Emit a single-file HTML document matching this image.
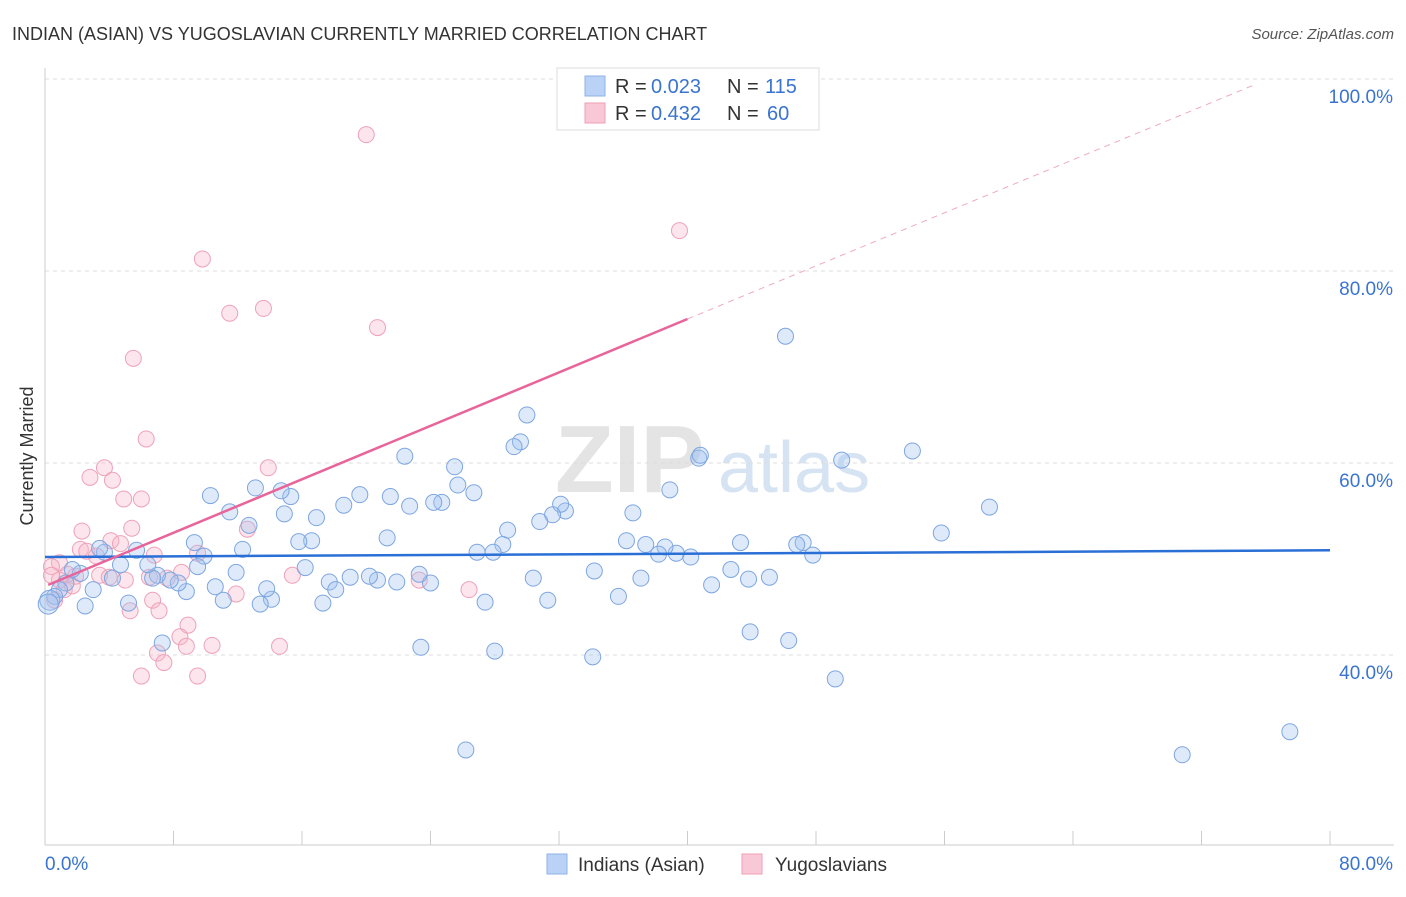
<!DOCTYPE html>
<html><head><meta charset="utf-8">
<style>
body{margin:0;background:#fff;font-family:"Liberation Sans",sans-serif;}
svg text{font-family:"Liberation Sans",sans-serif;}
</style></head>
<body>
<svg id="chart" width="1406" height="892" viewBox="0 0 1406 892" xmlns="http://www.w3.org/2000/svg">
<text x="12" y="40" font-size="18" fill="#333">INDIAN (ASIAN) VS YUGOSLAVIAN CURRENTLY MARRIED CORRELATION CHART</text>
<text x="1394" y="39" font-size="15" fill="#555" font-style="italic" text-anchor="end">Source: ZipAtlas.com</text>
<text x="555" y="492" font-size="96" fill="#e4e4e4" font-family="Liberation Serif" font-weight="bold">ZIP</text>
<text x="718" y="492" font-size="72" fill="#d6e3f3">atlas</text>
<g id="grid"></g>
<g id="axes"></g>
<g id="marks"></g>
<text transform="translate(33,456) rotate(-90)" font-size="18" fill="#333" text-anchor="middle">Currently Married</text>
<g>
<rect x="557" y="68" width="262" height="62" fill="#fff" stroke="#ddd"/>
<rect x="585" y="76" width="20" height="20" fill="#b9d2f5" stroke="#8fb2e6"/>
<text x="615" y="93" font-size="20" fill="#333">R =</text>
<text x="651" y="93" font-size="20" fill="#3a74d0">0.023</text>
<text x="727" y="93" font-size="20" fill="#333">N =</text>
<text x="765" y="93" font-size="20" fill="#3a74d0">115</text>
<rect x="585" y="103" width="20" height="20" fill="#f9c8d6" stroke="#ee9fb7"/>
<text x="615" y="120" font-size="20" fill="#333">R =</text>
<text x="651" y="120" font-size="20" fill="#3a74d0">0.432</text>
<text x="727" y="120" font-size="20" fill="#333">N =</text>
<text x="767" y="120" font-size="20" fill="#3a74d0">60</text>
</g>
<g>
<rect x="547" y="854" width="20" height="20" fill="#b9d2f5" stroke="#8fb2e6"/>
<text x="578" y="871" font-size="19" fill="#333">Indians (Asian)</text>
<rect x="742" y="854" width="20" height="20" fill="#f9c8d6" stroke="#ee9fb7"/>
<text x="775" y="871" font-size="19" fill="#333">Yugoslavians</text>
</g>
</svg>
<script>
const yTicks=[40,60,80,100];
const yTickLabels=["40.0%","60.0%","80.0%","100.0%"];
const xTicks=[0,8,16,24,32,40,48,56,64,72,80];
const blueX=[77.5,70.8,46.1,54.0,49.6,58.8,55.8,49.2,46.3,43.9,47.8,47.2,46.8,45.1,43.8,42.7,43.3,41.5,40.7,40.8,38.9,40.2,39.3,38.6,38.2,37.4,36.2,36.6,37.1,35.7,34.2,34.1,32.4,32.1,31.6,30.8,31.3,30.4,30.0,29.6,29.2,28.8,28.5,27.9,26.9,28.0,27.4,26.2,26.7,25.7,25.5,24.7,24.2,22.7,22.4,24.0,23.3,23.4,21.9,21.5,21.3,20.7,20.2,19.6,19.0,18.6,17.7,18.1,17.3,16.9,16.6,16.2,15.8,15.3,14.9,14.7,14.1,13.8,13.4,13.1,12.7,12.3,11.9,11.5,11.1,10.6,10.3,9.9,9.5,9.3,8.8,8.3,7.8,7.3,7.0,6.7,6.4,5.7,5.2,4.7,4.2,3.7,3.4,3.0,2.5,2.2,1.7,1.3,0.9,0.6,0.3,0.2];
const blueY=[32.0,29.6,73.2,61.25,60.3,55.4,52.7,37.5,41.5,42.4,50.4,51.7,51.5,48.1,47.9,48.9,51.7,47.3,60.5,60.8,57.2,50.2,50.6,51.25,50.5,51.5,51.9,54.8,48.0,46.1,48.75,39.8,55.0,55.7,54.6,53.9,45.7,48.0,65.0,62.2,61.7,53.0,51.5,50.7,50.7,40.4,45.5,30.1,56.9,57.7,59.6,55.9,55.9,55.5,60.7,47.5,48.4,40.8,47.6,56.5,52.2,47.8,48.2,56.7,48.1,55.6,47.6,46.8,45.4,54.3,51.9,49.1,51.8,56.5,54.7,57.1,45.8,46.9,45.3,57.4,53.5,51.0,48.6,54.9,45.7,47.1,56.6,50.3,49.2,51.7,46.6,47.5,47.8,41.25,48.3,48.0,49.4,50.9,45.4,49.4,48.0,50.7,51.1,46.8,45.1,48.5,48.9,47.5,46.8,46.1,45.7,45.3];
const pinkX=[20.0,39.5,9.8,13.6,11.5,20.7,5.5,6.3,3.7,13.9,2.8,4.2,4.9,6.0,2.3,5.4,12.6,4.1,4.7,2.2,2.6,3.2,6.8,9.5,0.9,0.4,1.4,1.9,0.9,3.4,4.0,5.0,6.5,7.6,8.5,15.4,23.3,26.4,11.9,6.7,5.3,7.1,8.9,8.4,8.8,10.4,14.6,7.0,7.4,6.0,9.5,1.2,1.7,0.6,0.4];
const pinkY=[94.2,84.2,81.25,76.1,75.6,74.1,70.9,62.5,59.5,59.5,58.5,58.2,56.25,56.25,52.9,53.2,53.1,51.9,51.6,51.0,50.8,50.3,50.4,50.6,49.6,49.2,48.4,48.2,47.8,48.3,48.1,47.8,48.1,48.0,48.6,48.3,47.8,46.8,46.35,45.7,44.6,44.6,43.1,41.9,40.9,41.0,40.9,40.2,39.2,37.8,37.8,46.8,47.2,45.7,48.3];
const blueTrend=[[0,50.2],[80,50.9]];
const pinkTrend=[[0.2,47.3],[40,75.0]];
const pinkDash=[[40,75.0],[75.3,99.4]];
const NS="http://www.w3.org/2000/svg";
const X0=45,X1=1330,Y0=79,Y1=845,XMIN=0,XMAX=80,YMIN=20.2,YMAX=100;
const sx=v=>X0+(v-XMIN)/(XMAX-XMIN)*(X1-X0);
const sy=v=>Y0+(YMAX-v)/(YMAX-YMIN)*(Y1-Y0);
function mk(tag,attrs,parent){const e=document.createElementNS(NS,tag);for(const k in attrs)e.setAttribute(k,attrs[k]);document.getElementById(parent).appendChild(e);return e;}
yTicks.forEach((t,i)=>{
 const l=mk('line',{x1:X0,x2:1394,y1:sy(t),y2:sy(t),stroke:'#ddd','stroke-dasharray':'4,4'},'grid');
 
 
 const tx=mk('text',{x:1393,y:sy(t)+24,'font-size':19,fill:'#3a74d0','text-anchor':'end'},'grid');
 tx.textContent=yTickLabels[i];
 
 
});
const ax=mk('line',{x1:X0,x2:X0,y1:68,y2:Y1,stroke:'#ccc'},'axes');


const bx=mk('line',{x1:X0,x2:1394,y1:Y1,y2:Y1,stroke:'#ccc'},'axes');


xTicks.forEach(t=>{
 const l=mk('line',{x1:sx(t),x2:sx(t),y1:Y1-14,y2:Y1,stroke:'#ccc'},'axes');
 
 
});
const xl0=mk('text',{x:45,y:870,'font-size':19,fill:'#3a74d0'},'axes');xl0.textContent='0.0%';


const xl1=mk('text',{x:1393,y:870,'font-size':19,fill:'#3a74d0','text-anchor':'end'},'axes');xl1.textContent='80.0%';


pinkX.forEach((v,i)=>{
 const c=mk('circle',{cx:sx(v),cy:sy(pinkY[i]),r:8,fill:'rgba(247,180,200,0.35)',stroke:'#eea2b9','stroke-width':1},'marks');
 
 
});
blueX.forEach((v,i)=>{
 const c=mk('circle',{cx:sx(v),cy:sy(blueY[i]),r:(i>=blueX.length-2?10:8),fill:'rgba(160,195,240,0.35)',stroke:'#7ea6e0','stroke-width':1},'marks');
 
 
});
const bl=mk('line',{x1:sx(blueTrend[0][0]),y1:sy(blueTrend[0][1]),x2:sx(blueTrend[1][0]),y2:sy(blueTrend[1][1]),stroke:'#2a6fd6','stroke-width':2.5},'marks');


const pl=mk('line',{x1:sx(pinkTrend[0][0]),y1:sy(pinkTrend[0][1]),x2:sx(pinkTrend[1][0]),y2:sy(pinkTrend[1][1]),stroke:'#e8649a','stroke-width':2.5},'marks');


const pd=mk('line',{x1:sx(pinkDash[0][0]),y1:sy(pinkDash[0][1]),x2:sx(pinkDash[1][0]),y2:sy(pinkDash[1][1]),stroke:'#eeaac0','stroke-width':1,'stroke-dasharray':'6,5'},'marks');


</script>
</body></html>
